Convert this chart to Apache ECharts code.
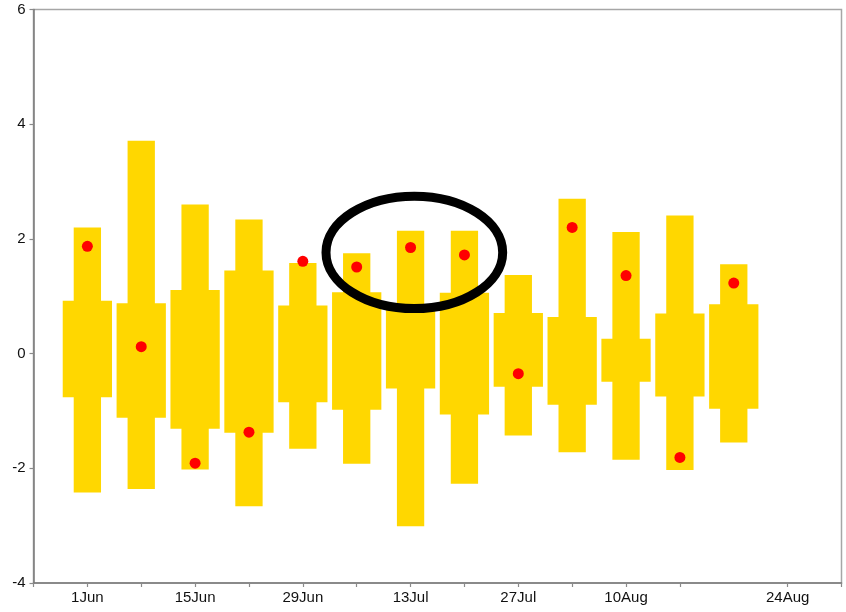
<!DOCTYPE html>
<html>
<head>
<meta charset="utf-8">
<script src="https://cdn.jsdelivr.net/npm/echarts@6/dist/echarts.min.js"></script>
<style>
html,body{margin:0;padding:0;background:#fff;}
#chart{width:846px;height:612px;}
</style>
</head>
<body>
<div id="chart"></div>
<script>
// x positions (week index on the axis)
const weeks = [1, 2, 3, 4, 5, 6, 7, 8, 9, 10, 11, 12, 13];
const highs = [2.20, 3.71, 2.60, 2.34, 1.58, 1.75, 2.14, 2.14, 1.37, 2.70, 2.12, 2.41, 1.56];
const upperQ = [0.92, 0.88, 1.11, 1.45, 0.84, 1.07, 0.78, 1.06, 0.71, 0.64, 0.26, 0.70, 0.86];
const lowerQ = [-0.76, -1.12, -1.31, -1.38, -0.85, -0.98, -0.61, -1.06, -0.58, -0.89, -0.49, -0.75, -0.96];
const lows = [-2.42, -2.36, -2.02, -2.66, -1.66, -1.92, -3.01, -2.27, -1.43, -1.72, -1.85, -2.03, -1.55];
const points = [1.87, 0.12, -1.91, -1.37, 1.61, 1.51, 1.85, 1.72, -0.35, 2.20, 1.36, -1.81, 1.23];

// axis ticks and labels
const tickWeeks = [0, 1, 2, 3, 4, 5, 6, 7, 8, 9, 10, 11, 12, 14, 15];
const labelWeeks = [1, 3, 5, 7, 9, 11, 14];
const labelTexts = ['1Jun', '15Jun', '29Jun', '13Jul', '27Jul', '10Aug', '24Aug'];
const yTicks = [-4, -2, 0, 2, 4, 6];

// highlight ellipse: [centre week, centre value, half-width (weeks), half-height (value)]
const highlight = [[7.07, 1.765, 1.64, 0.98]];

const boxData = weeks.map((w, i) => [w, lows[i], lowerQ[i], upperQ[i], highs[i]]);
const pointData = weeks.map((w, i) => [w, points[i]]);

const YELLOW = '#FFD700';
const FONT = '"Liberation Sans", Arial, Helvetica, sans-serif';

const chart = echarts.init(document.getElementById('chart'), null, {renderer: 'canvas'});
chart.setOption({
  animation: false,
  backgroundColor: '#ffffff',
  grid: {
    left: 33.5, right: 4.5, top: 9.5, bottom: 29,
    show: true, borderColor: '#a6a6a6', borderWidth: 1.5, backgroundColor: 'transparent'
  },
  xAxis: {
    type: 'value', min: 0, max: 15,
    axisLine: {show: true, onZero: false, lineStyle: {color: '#7a7a7a', width: 1.5}},
    axisTick: {show: true, length: 4, customValues: tickWeeks, lineStyle: {color: '#8a8a8a', width: 1.2}},
    axisLabel: {
      customValues: labelWeeks, margin: 7, color: '#111', fontSize: 15, fontFamily: FONT,
      formatter: v => labelTexts[labelWeeks.indexOf(Math.round(v))] || ''
    },
    splitLine: {show: false}
  },
  yAxis: {
    type: 'value', min: -4, max: 6, interval: 2,
    axisLine: {show: true, onZero: false, lineStyle: {color: '#7a7a7a', width: 1.5}},
    axisTick: {show: true, length: 4, lineStyle: {color: '#8a8a8a', width: 1.2}},
    axisLabel: {margin: 8, color: '#111', fontSize: 15, fontFamily: FONT,
      formatter: v => yTicks.includes(v) ? String(v) : ''},
    splitLine: {show: false}
  },
  series: [
    {
      type: 'custom',
      data: boxData,
      encode: {x: 0, y: [1, 2, 3, 4]},
      renderItem: function (params, api) {
        const x = api.value(0);
        const lo = api.coord([x, api.value(1)]);
        const q1 = api.coord([x, api.value(2)]);
        const q3 = api.coord([x, api.value(3)]);
        const hi = api.coord([x, api.value(4)]);
        const unit = api.size([1, 0])[0];
        const thinW = unit * 0.507;
        const wideW = unit * 0.915;
        return {
          type: 'group',
          children: [
            {type: 'rect', shape: {x: lo[0] - thinW / 2, y: hi[1], width: thinW, height: lo[1] - hi[1]},
             style: {fill: YELLOW}},
            {type: 'rect', shape: {x: lo[0] - wideW / 2, y: q3[1], width: wideW, height: q1[1] - q3[1]},
             style: {fill: YELLOW}}
          ]
        };
      },
      z: 2
    },
    {
      type: 'scatter',
      data: pointData,
      symbol: 'circle',
      symbolSize: 11,
      itemStyle: {color: '#FF0000', opacity: 1},
      z: 3
    },
    {
      type: 'custom',
      data: highlight,
      encode: {x: 0, y: 1},
      renderItem: function (params, api) {
        const c = api.coord([api.value(0), api.value(1)]);
        const rx = api.size([api.value(2), 0])[0];
        const ry = api.size([0, api.value(3)])[1];
        return {
          type: 'ellipse',
          shape: {cx: c[0], cy: c[1], rx: rx, ry: ry},
          style: {fill: 'none', stroke: '#000', lineWidth: 9}
        };
      },
      z: 4
    }
  ]
});
</script>
</body>
</html>
